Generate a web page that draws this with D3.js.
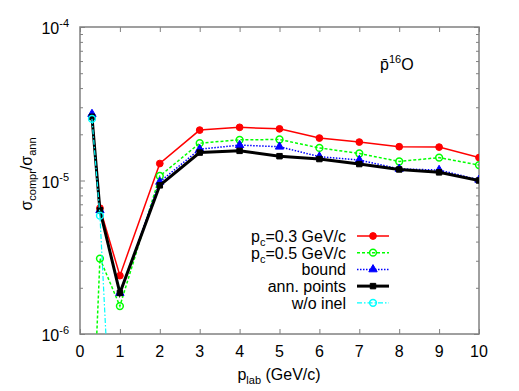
<!DOCTYPE html>
<html>
<head>
<meta charset="utf-8">
<script src="https://cdn.jsdelivr.net/npm/d3@7"></script>
<style>
  body { margin: 0; background: #fff; }
  text { font-family: "Liberation Sans", Arial, Helvetica, sans-serif; fill: #000; }
</style>
</head>
<body>
<div id="chart"></div>
<script>
// values
var pLab      = [0.3, 0.5, 1, 2, 3, 4, 5, 6, 7, 8, 9, 10];
var pc03      = [2.6e-5, 6.6e-6, 2.4e-6, 1.29e-5, 2.13e-5, 2.22e-5, 2.17e-5, 1.89e-5, 1.78e-5, 1.66e-5, 1.65e-5, 1.41e-5];
var pc05      = [1.8e-7, 3.1e-6, 1.52e-6, 1.07e-5, 1.75e-5, 1.84e-5, 1.85e-5, 1.63e-5, 1.50e-5, 1.33e-5, 1.41e-5, 1.26e-5];
var bound     = [2.71e-5, 6.4e-6, 1.85e-6, 9.8e-6, 1.6e-5, 1.7e-5, 1.66e-5, 1.43e-5, 1.36e-5, 1.19e-5, 1.17e-5, 1.01e-5];
var annPoints = [2.6e-5, 6.4e-6, 1.85e-6, 9.3e-6, 1.52e-5, 1.56e-5, 1.44e-5, 1.38e-5, 1.28e-5, 1.18e-5, 1.13e-5, 1.0e-5];
var woInelX   = [0.3, 0.5, 1];
var woInel    = [2.52e-5, 5.9e-6, 1.5e-8];

var xTicks = [0, 1, 2, 3, 4, 5, 6, 7, 8, 9, 10];
var yMajor = [1e-6, 1e-5, 1e-4];
var yExp   = ["-6", "-5", "-4"];

var W = 519, H = 391;
var L = 80, R = 479, T = 27, B = 334;
var FRAME = '#808080';

var svg = d3.select('#chart').append('svg')
    .attr('width', W).attr('height', H);

var x = d3.scaleLinear().domain([0, 10]).range([L, R]);
var y = d3.scaleLog().domain([1e-6, 1e-4]).range([B, T]);

var minors = [];
[1e-6, 1e-5].forEach(function(d) {
    for (var k = 2; k <= 9; k++) minors.push(d * k);
});

// ticks, inward, on all four sides
function tickAxis(axis, tr, ticks, size) {
    var g = svg.append('g').attr('transform', tr)
        .call(axis.tickValues(ticks).tickSizeInner(size).tickSizeOuter(0).tickFormat(''));
    g.select('.domain').remove();
    g.selectAll('line').attr('stroke', FRAME).attr('stroke-width', 1);
    return g;
}
tickAxis(d3.axisBottom(x), 'translate(0,' + B + ')', xTicks, -5);
tickAxis(d3.axisTop(x), 'translate(0,' + T + ')', xTicks, -5);
tickAxis(d3.axisLeft(y), 'translate(' + L + ',0)', yMajor, -5);
tickAxis(d3.axisLeft(y), 'translate(' + L + ',0)', minors, -3);
tickAxis(d3.axisRight(y), 'translate(' + R + ',0)', yMajor, -5);
tickAxis(d3.axisRight(y), 'translate(' + R + ',0)', minors, -3);

// x tick labels
svg.append('g').selectAll('text').data(xTicks).enter().append('text')
    .attr('x', function(d) { return x(d); })
    .attr('y', 357)
    .attr('text-anchor', 'middle')
    .attr('font-size', 16)
    .text(function(d) { return d; });

// y tick labels with superscripts
yMajor.forEach(function(d, i) {
    var t = svg.append('text')
        .attr('x', 69).attr('y', y(d) + 7)
        .attr('text-anchor', 'end')
        .attr('font-size', 16);
    t.append('tspan').text('10');
    t.append('tspan').attr('font-size', 11).attr('dy', -7).text(yExp[i]);
});

// frame
svg.append('rect')
    .attr('x', L).attr('y', T).attr('width', R - L).attr('height', B - T)
    .attr('fill', 'none').attr('stroke', FRAME).attr('stroke-width', 1.5);

// axis titles
var xl = svg.append('text').attr('x', 279).attr('y', 380)
    .attr('text-anchor', 'middle').attr('font-size', 16);
xl.append('tspan').text('p');
xl.append('tspan').attr('font-size', 11).attr('dy', 4).text('lab');
xl.append('tspan').attr('dy', -4).text(' (GeV/c)');

var yl = svg.append('text')
    .attr('transform', 'translate(32,174) rotate(-90)')
    .attr('text-anchor', 'middle').attr('font-size', 16);
yl.append('tspan').text('σ');
yl.append('tspan').attr('font-size', 11).attr('dy', 4).text('compr');
yl.append('tspan').attr('dy', -4).text('/σ');
yl.append('tspan').attr('font-size', 11).attr('dy', 4).text('ann');

// p̄ 16O label
var tl = svg.append('text').attr('x', 380).attr('y', 70).attr('font-size', 16);
tl.append('tspan').text('p\u0304');
tl.append('tspan').attr('font-size', 11).attr('dy', -7).text('16');
tl.append('tspan').attr('dy', 7).text('O');

// series
svg.append('clipPath').attr('id', 'clip').append('rect')
    .attr('x', L).attr('y', T).attr('width', R - L).attr('height', B - T);

var series = [
    { name: 'p_c=0.3 GeV/c', sub: true, xs: pLab, ys: pc03, color: '#ff0000', width: 1.5, dash: null, mark: 'circle', fill: true },
    { name: 'p_c=0.5 GeV/c', sub: true, xs: pLab, ys: pc05, color: '#00ff00', width: 1.5, dash: '3,2', mark: 'circle', fill: false },
    { name: 'bound', xs: pLab, ys: bound, color: '#0000ff', width: 1.5, dash: '1.5,1.5', mark: 'triangle', fill: true },
    { name: 'ann. points', xs: pLab, ys: annPoints, color: '#000000', width: 3, dash: null, mark: 'square', fill: true },
    { name: 'w/o inel', xs: woInelX, ys: woInel, color: '#00ffff', width: 1.2, dash: '5,2,1.5,2', mark: 'circle', fill: false }
];

var symbols = { circle: d3.symbolCircle, triangle: d3.symbolTriangle, square: d3.symbolSquare };
var sizes = { circle: 36, triangle: 30, square: 30 };

function drawMark(g, s, cx, cy) {
    g.append('path')
        .attr('d', d3.symbol().type(symbols[s.mark]).size(sizes[s.mark]))
        .attr('transform', 'translate(' + cx + ',' + cy + ')')
        .attr('fill', s.fill ? s.color : 'none')
        .attr('stroke', s.color)
        .attr('stroke-width', s.fill ? 1 : 1.5);
}

var plot = svg.append('g').attr('clip-path', 'url(#clip)');
var line = d3.line()
    .x(function(d) { return x(d[0]); })
    .y(function(d) { return y(d[1]); });

series.forEach(function(s) {
    var pts = d3.zip(s.xs, s.ys);
    plot.append('path')
        .datum(pts)
        .attr('d', line)
        .attr('fill', 'none')
        .attr('stroke', s.color)
        .attr('stroke-width', s.width)
        .attr('stroke-dasharray', s.dash);
    pts.forEach(function(p) { drawMark(plot, s, x(p[0]), y(p[1])); });
});

// legend
series.forEach(function(s, i) {
    var ly = 236 + i * 16.7;
    var t = svg.append('text').attr('x', 346).attr('y', ly + 6)
        .attr('text-anchor', 'end').attr('font-size', 16);
    if (s.sub) {
        var parts = s.name.split('_c');
        t.append('tspan').text(parts[0]);
        t.append('tspan').attr('font-size', 11).attr('dy', 4).text('c');
        t.append('tspan').attr('dy', -4).text(parts[1]);
    } else {
        t.text(s.name);
    }
    svg.append('line')
        .attr('x1', 357).attr('x2', 389).attr('y1', ly).attr('y2', ly)
        .attr('stroke', s.color).attr('stroke-width', s.width)
        .attr('stroke-dasharray', s.dash);
    drawMark(svg, s, 373, ly);
});
</script>
</body>
</html>
